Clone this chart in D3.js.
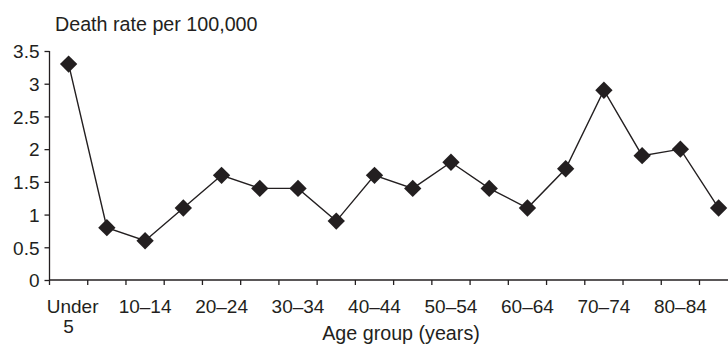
<!DOCTYPE html>
<html>
<head>
<meta charset="utf-8">
<script src="https://cdn.jsdelivr.net/npm/d3@7"></script>
<style>
  html, body { margin: 0; padding: 0; background: #fff; }
  svg { display: block; }
  text { font-family: "Liberation Sans", Arial, sans-serif; fill: #231f20; }
</style>
</head>
<body>
<svg id="chart" width="728" height="345"></svg>
<script>
const categories = ["Under 5", "5–9", "10–14", "15–19", "20–24", "25–29", "30–34", "35–39", "40–44",
  "45–49", "50–54", "55–59", "60–64", "65–69", "70–74", "75–79", "80–84", "85+"];
const deathRates = [3.3, 0.8, 0.6, 1.1, 1.6, 1.4, 1.4, 0.9, 1.6, 1.4, 1.8, 1.4, 1.1, 1.7, 2.9, 1.9, 2.0, 1.1];
const labelledCategories = ["Under 5", "10–14", "20–24", "30–34", "40–44", "50–54", "60–64", "70–74", "80–84"];
const yTicks = [0, 0.5, 1, 1.5, 2, 2.5, 3, 3.5];
const yTitle = "Death rate per 100,000";
const xTitle = "Age group (years)";

const ink = "#231f20";
const svg = d3.select("#chart");

const x = d3.scaleBand().domain(categories).range([49.5, 49.5 + 18 * 38.235]).padding(0);
const y = d3.scaleLinear().domain([0, 3.5]).range([280, 51]);

// Y axis
const yAxis = svg.append("g").attr("transform", "translate(49.5,0)")
  .call(d3.axisLeft(y).tickValues(yTicks).tickSize(5).tickPadding(5).tickFormat(d => String(d)));
yAxis.select(".domain").attr("d", `M0,${y(3.5)}V${y(0)}`).attr("stroke", ink).attr("stroke-width", 1.3);
yAxis.selectAll(".tick line").attr("stroke", ink).attr("stroke-width", 1.3);
yAxis.selectAll(".tick text").style("font-size", "19px").attr("fill", ink)
  .style("font-family", "'Liberation Sans', Arial, sans-serif").attr("dy", "0.36em");

// X axis
const xAxis = svg.append("g").attr("transform", `translate(0,${y(0)})`);
xAxis.append("line").attr("x1", x.range()[0]).attr("x2", x.range()[1])
  .attr("stroke", ink).attr("stroke-width", 1.3);
const boundaries = categories.map(c => x(c)).concat([x.range()[1]]);
xAxis.selectAll("line.tk").data(boundaries).join("line").attr("class", "tk")
  .attr("x1", d => d).attr("x2", d => d).attr("y1", 0).attr("y2", 5)
  .attr("stroke", ink).attr("stroke-width", 1.3);

const lbl = xAxis.selectAll("text.xl").data(labelledCategories).join("text").attr("class", "xl")
  .attr("x", d => x(d) + x.bandwidth() / 2 + (d === "Under 5" ? 4 : 0))
  .attr("y", 33)
  .attr("text-anchor", "middle")
  .style("font-size", "19px");
lbl.each(function(d) {
  const t = d3.select(this);
  if (d === "Under 5") {
    t.append("tspan").attr("x", x(d) + x.bandwidth() / 2 + 4).attr("y", 33).text("Under");
    t.append("tspan").attr("x", x(d) + x.bandwidth() / 2).attr("y", 53).text("5");
  } else {
    t.text(d);
  }
});

// Titles
svg.append("text").attr("x", 55).attr("y", 30.5).style("font-size", "19.7px").text(yTitle);
svg.append("text").attr("x", 401).attr("y", 340).attr("text-anchor", "middle")
  .style("font-size", "19.7px").text(xTitle);

// Line
const line = d3.line().x((d, i) => x(categories[i]) + x.bandwidth() / 2).y(d => y(d));
svg.append("path").datum(deathRates).attr("d", line)
  .attr("fill", "none").attr("stroke", ink).attr("stroke-width", 1.4);

// Markers (diamonds)
const diamond = d3.symbol().type(d3.symbolSquare).size(150);
svg.selectAll("path.mk").data(deathRates).join("path").attr("class", "mk")
  .attr("d", diamond)
  .attr("transform", (d, i) => `translate(${x(categories[i]) + x.bandwidth() / 2},${y(d)}) rotate(45)`)
  .attr("fill", ink);
</script>
</body>
</html>
